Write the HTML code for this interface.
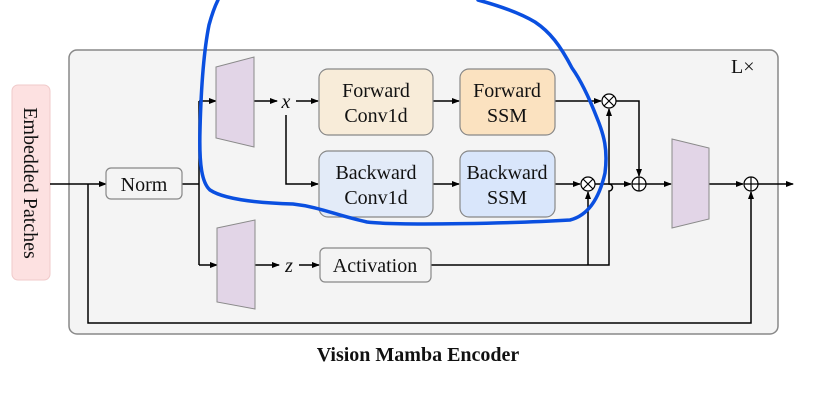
<!DOCTYPE html>
<html><head><meta charset="utf-8"><style>
html,body{margin:0;padding:0;background:#fff;width:819px;height:400px;overflow:hidden}
text{font-family:"Liberation Serif",serif;fill:#111}
</style></head><body>
<svg width="819" height="400" viewBox="0 0 819 400" xmlns="http://www.w3.org/2000/svg">
<defs><marker id="a" markerWidth="8" markerHeight="6" refX="7" refY="3" orient="auto" markerUnits="userSpaceOnUse"><path d="M0,0 L8,3 L0,6 z" fill="#000"/></marker></defs>
<rect x="69" y="50" width="709" height="284" rx="8" fill="#f4f4f4" stroke="#888" stroke-width="1.5"/>
<text x="731" y="73" font-size="20">L×</text>
<rect x="12" y="85" width="38" height="195" rx="6" fill="#fde1e1" stroke="#f0caca"/>
<text transform="translate(24,183) rotate(90)" font-size="20" text-anchor="middle">Embedded Patches</text>
<g fill="none" stroke="#000" stroke-width="1.5">
<path d="M50 184 H106" marker-end="url(#a)"/>
<path d="M182 184 H199 M199 101 V265"/>
<path d="M199 101 H216" marker-end="url(#a)"/>
<path d="M199 265 H217" marker-end="url(#a)"/>
<path d="M254 101 H277" marker-end="url(#a)"/>
<path d="M296 101 H318" marker-end="url(#a)"/>
<path d="M286 115 V184 H318" marker-end="url(#a)"/>
<path d="M255 265 H279" marker-end="url(#a)"/>
<path d="M299 265 H319" marker-end="url(#a)"/>
<path d="M433 101 H459" marker-end="url(#a)"/>
<path d="M433 184 H459" marker-end="url(#a)"/>
<path d="M555 101 H601" marker-end="url(#a)"/>
<path d="M555 184 H580" marker-end="url(#a)"/>
<path d="M431 265 H609 V191 a3 3 0 0 0 0 -7 V109" marker-end="url(#a)"/>
<path d="M588 265 V192" marker-end="url(#a)"/>
<path d="M595 184 H631" marker-end="url(#a)"/>
<path d="M616 101 H639 V176" marker-end="url(#a)"/>
<path d="M646 184 H671" marker-end="url(#a)"/>
<path d="M709 184 H743" marker-end="url(#a)"/>
<path d="M758 184 H793" marker-end="url(#a)"/>
<path d="M88 184 V323 H751 V192" marker-end="url(#a)"/>
</g>
<g fill="#e2d5e7" stroke="#8a8a8a" stroke-width="1">
<polygon points="216,67 254,57 254,147 216,138"/>
<polygon points="217,228 255,220 255,309 217,302"/>
<polygon points="672,139 709,148 709,219 672,228"/>
</g>
<rect x="106" y="168" width="76" height="31" rx="5" fill="#f4f4f4" stroke="#888" stroke-width="1.2"/>
<text x="144" y="191" font-size="20" text-anchor="middle">Norm</text>
<text x="286" y="108" font-size="20" font-style="italic" text-anchor="middle">x</text>
<text x="289" y="272" font-size="20" font-style="italic" text-anchor="middle">z</text>
<rect x="319" y="69" width="114" height="66" rx="9" fill="#f8ecd9" stroke="#888" stroke-width="1.2"/>
<text x="376" y="97" font-size="20" text-anchor="middle">Forward</text><text x="376" y="122" font-size="20" text-anchor="middle">Conv1d</text>
<rect x="319" y="151" width="114" height="66" rx="9" fill="#e3ebf8" stroke="#888" stroke-width="1.2"/>
<text x="376" y="179" font-size="20" text-anchor="middle">Backward</text><text x="376" y="204" font-size="20" text-anchor="middle">Conv1d</text>
<rect x="460" y="69" width="95" height="66" rx="9" fill="#fbe2c0" stroke="#888" stroke-width="1.2"/>
<text x="507" y="97" font-size="20" text-anchor="middle">Forward</text><text x="507" y="122" font-size="20" text-anchor="middle">SSM</text>
<rect x="460" y="151" width="95" height="66" rx="9" fill="#d9e6fb" stroke="#888" stroke-width="1.2"/>
<text x="507" y="179" font-size="20" text-anchor="middle">Backward</text><text x="507" y="204" font-size="20" text-anchor="middle">SSM</text>
<rect x="320" y="248" width="111" height="34" rx="5" fill="#f4f4f4" stroke="#888" stroke-width="1.2"/>
<text x="375" y="272" font-size="20" text-anchor="middle">Activation</text>
<g fill="#fff" stroke="#000" stroke-width="1.2">
<circle cx="609" cy="101" r="7"/><path d="M604 96 L614 106 M614 96 L604 106"/>
<circle cx="588" cy="184" r="7"/><path d="M583 179 L593 189 M593 179 L583 189"/>
<circle cx="639" cy="184" r="7"/><path d="M632 184 H646 M639 177 V191"/>
<circle cx="751" cy="184" r="7"/><path d="M744 184 H758 M751 177 V191"/>
</g>
<text x="418" y="361" font-size="20" font-weight="bold" text-anchor="middle">Vision Mamba Encoder</text>
<path d="M218 0 C214 8 212 14 209 25 C204 50 201 90 200 130 C199 165 202 183 210 190 C225 200 260 203 293 204 C320 207 335 215 367 222 C400 226 520 223 570 220 C590 215 600 195 605 173 C608 150 604 135 597 118 C590 100 582 82 572 68 C560 45 550 32 535 22 C520 13 500 6 478 0" fill="none" stroke="#0a4fe0" stroke-width="3.5" stroke-linecap="round"/>
</svg>
</body></html>
